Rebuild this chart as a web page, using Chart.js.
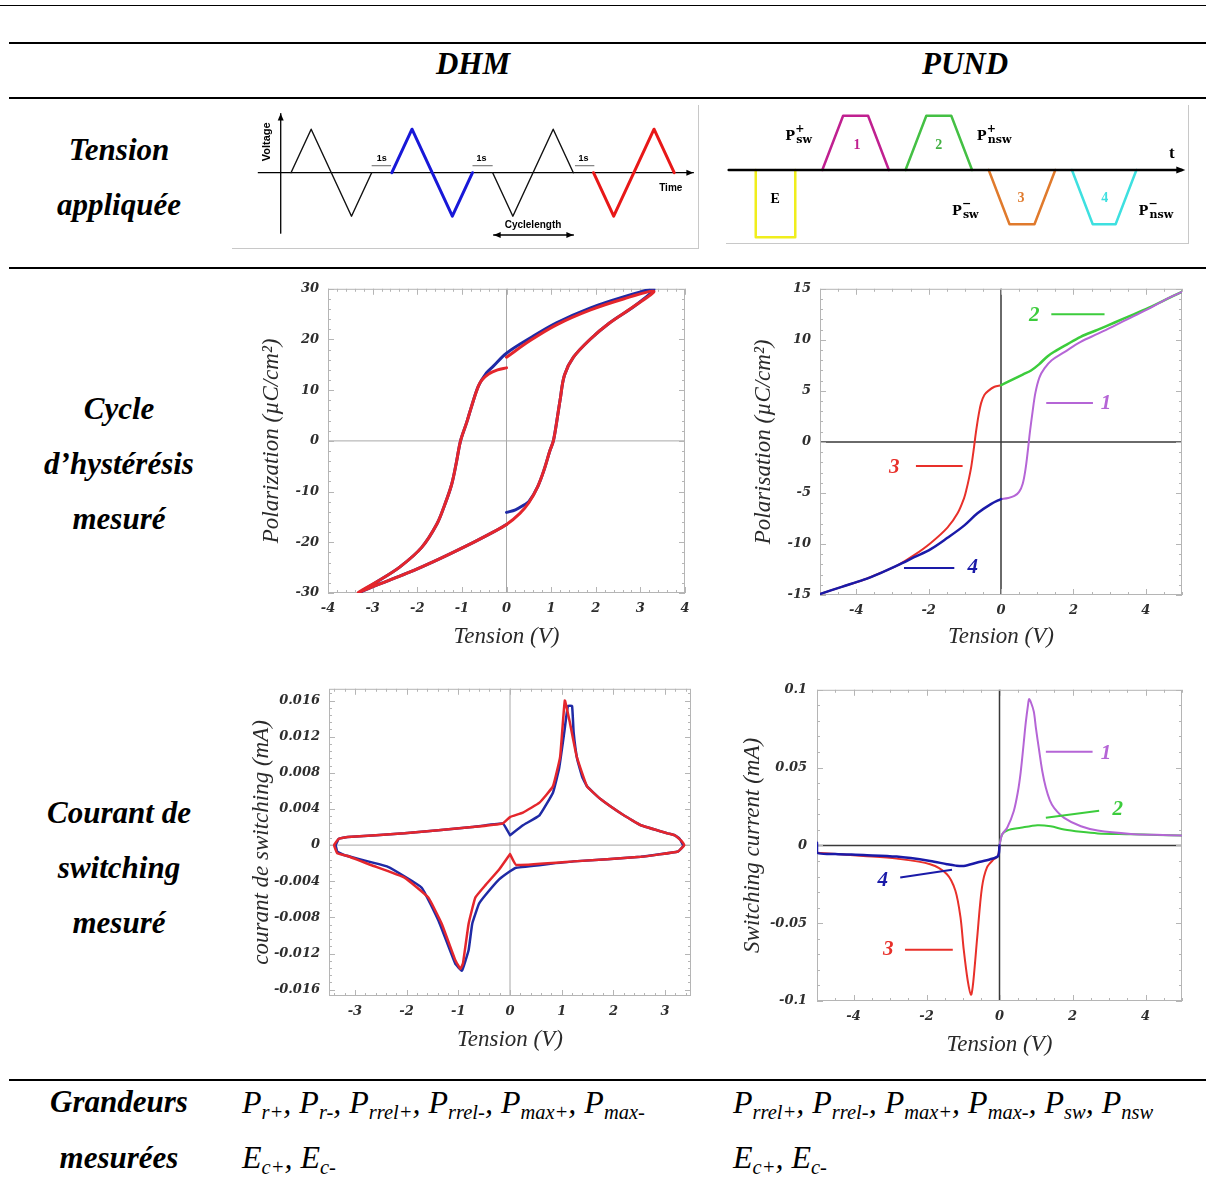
<!DOCTYPE html>
<html lang="fr"><head><meta charset="utf-8">
<script src="https://cdn.jsdelivr.net/npm/chart.js@4.4.1/dist/chart.umd.min.js"></script>
<style>
html,body{margin:0;padding:0;background:#fff}
body{position:relative;width:1206px;height:1189px;overflow:hidden;font-family:'Liberation Serif','Times New Roman',serif}
.hl{position:absolute;background:#000;height:2px}
.t{position:absolute;transform:translate(-50%,-50%);white-space:nowrap;font-weight:bold;font-style:italic;font-size:31px;line-height:1;color:#000}
.m{position:absolute;white-space:nowrap;font-style:italic;font-size:32px;line-height:1;color:#000}
.m sub{font-size:0.64em;vertical-align:-0.28em;line-height:0}
canvas{position:absolute}
.frm{position:absolute;border-right:1px solid #c8c8c8;border-bottom:1px solid #c8c8c8;box-sizing:border-box}
</style></head><body>
<div class="hl" style="left:0;top:5px;width:1206px;height:1px"></div>
<div class="hl" style="left:9px;top:42px;width:1197px"></div>
<div class="hl" style="left:9px;top:97px;width:1197px"></div>
<div class="hl" style="left:9px;top:267px;width:1197px"></div>
<div class="hl" style="left:9px;top:1079px;width:1197px"></div>

<div class="t" style="left:473px;top:63px">DHM</div>
<div class="t" style="left:965px;top:63px">PUND</div>
<div class="t" style="left:119px;top:149px">Tension</div>
<div class="t" style="left:119px;top:204px">appliquée</div>
<div class="t" style="left:119px;top:408px">Cycle</div>
<div class="t" style="left:119px;top:463px">d’hystérésis</div>
<div class="t" style="left:119px;top:518px">mesuré</div>
<div class="t" style="left:119px;top:812px">Courant de</div>
<div class="t" style="left:119px;top:867px">switching</div>
<div class="t" style="left:119px;top:922px">mesuré</div>
<div class="t" style="left:119px;top:1101px">Grandeurs</div>
<div class="t" style="left:119px;top:1157px">mesurées</div>

<div class="m" style="left:242px;top:1086px">P<sub>r+</sub>, P<sub>r-</sub>, P<sub>rrel+</sub>, P<sub>rrel-</sub>, P<sub>max+</sub>, P<sub>max-</sub></div>
<div class="m" style="left:242px;top:1141px">E<sub>c+</sub>, E<sub>c-</sub></div>
<div class="m" style="left:733px;top:1086px">P<sub>rrel+</sub>, P<sub>rrel-</sub>, P<sub>max+</sub>, P<sub>max-</sub>, P<sub>sw</sub>, P<sub>nsw</sub></div>
<div class="m" style="left:733px;top:1141px">E<sub>c+</sub>, E<sub>c-</sub></div>

<div class="frm" style="left:232px;top:105px;width:467px;height:144px"></div>
<div class="frm" style="left:726px;top:105px;width:463px;height:139px"></div>

<canvas id="waveDHM" width="466" height="143" style="left:232px;top:105px"></canvas>
<canvas id="wavePUND" width="462" height="138" style="left:726px;top:105px"></canvas>
<canvas id="hystDHM" width="460" height="385" style="left:240px;top:272px"></canvas>
<canvas id="hystPUND" width="470" height="385" style="left:730px;top:272px"></canvas>
<canvas id="curDHM" width="460" height="390" style="left:240px;top:672px"></canvas>
<canvas id="curPUND" width="470" height="390" style="left:730px;top:672px"></canvas>

<script>
// ---------------- DATA ----------------
// DHM applied voltage (time in quarter-periods, normalised voltage)
const dhmWaveT1 = [0, 1, 2, 3, 4],      dhmWaveV1 = [0, 1, 0, -1, 0];
const dhmWaveT2 = [5, 6, 7, 8, 9],      dhmWaveV2 = [0, 1, 0, -1, 0];
const dhmWaveT3 = [10, 11, 12, 13, 14], dhmWaveV3 = [0, -1, 0, 1, 0];
const dhmWaveT4 = [15, 16, 17, 18, 19], dhmWaveV4 = [0, -1, 0, 1, 0];

// PUND pulse train
const pundWaveTE = [1.3, 1.3, 3.2, 3.2],       pundWaveVE = [0, -1.24, -1.24, 0];
const pundWaveT1 = [4.5, 5.5, 6.7, 7.7],       pundWaveV1 = [0, 1, 1, 0];
const pundWaveT2 = [8.5, 9.5, 10.7, 11.7],     pundWaveV2 = [0, 1, 1, 0];
const pundWaveT3 = [12.5, 13.5, 14.7, 15.7],   pundWaveV3 = [0, -1, -1, 0];
const pundWaveT4 = [16.5, 17.5, 18.6, 19.6],   pundWaveV4 = [0, -1, -1, 0];

// DHM hysteresis (V, µC/cm²)
const dhmHystBlueV = [0, 0.2, 0.4, 0.5, 0.7, 0.85, 0.97, 1.05, 1.12, 1.2, 1.3, 1.5, 1.87, 2.3, 2.9, 3.3, 2.62, 1.87, 1.12, 0.53, 0, -0.3, -0.45, -0.63, -0.78, -0.89, -1.03, -1.12, -1.23, -1.38, -1.56, -1.9, -2.38, -2.83, -3.3, -2.98, -2.23, -1.49, -0.74, -0.3, 0];
const dhmHystBlueP = [-14.1, -13.6, -12.6, -12.0, -9.0, -5.5, -2, 0, 3.5, 8, 13, 16.5, 20, 23.2, 26.8, 30, 28.4, 26.2, 23.3, 20.3, 17.3, 14.7, 13.4, 10.8, 6.9, 3.7, 0, -4.1, -8.6, -12.5, -16.4, -21, -24.8, -27.4, -30, -28.7, -26.1, -23.2, -20, -18, -16.5];
const dhmHystRedV = [0, -0.2, -0.4, -0.55, -0.63, -0.78, -0.89, -1.03, -1.12, -1.23, -1.38, -1.56, -1.9, -2.38, -2.83, -3.32, -2.98, -2.23, -1.49, -0.74, -0.3, 0, 0.3, 0.5, 0.7, 0.85, 0.97, 1.05, 1.12, 1.2, 1.3, 1.5, 1.87, 2.3, 2.9, 3.3, 2.62, 1.87, 1.12, 0.53, 0];
const dhmHystRedP = [14.4, 14.0, 13.2, 12.0, 10.8, 6.9, 3.7, 0, -4.1, -8.6, -12.5, -16.4, -21, -24.8, -27.4, -29.9, -28.7, -26.1, -23.2, -20, -18, -16.5, -14.3, -12.2, -9.0, -5.5, -2, 0, 3.5, 8, 13, 16.5, 20, 23.2, 26.8, 29.5, 28.0, 25.8, 22.9, 19.8, 16.5];

// PUND hysteresis
const pundHyst1V = [0, 0.2, 0.37, 0.5, 0.6, 0.68, 0.74, 0.8, 0.87, 0.95, 1.06, 1.2, 1.4, 1.75, 2.2, 2.68, 3.14, 3.6, 4.06, 4.52, 5.0];
const pundHyst1P = [-5.6, -5.5, -5.3, -4.9, -4.1, -2.6, -0.9, 1.0, 2.9, 4.8, 6.3, 7.2, 8.0, 8.8, 9.8, 10.6, 11.4, 12.2, 13.0, 13.9, 14.7];
const pundHyst2V = [0, 0.2, 0.4, 0.6, 0.83, 1.05, 1.29, 1.5, 1.75, 2.2, 2.68, 3.14, 3.6, 4.06, 4.52, 5.0];
const pundHyst2P = [5.55, 5.9, 6.25, 6.6, 7.0, 7.6, 8.4, 8.9, 9.4, 10.3, 11.0, 11.7, 12.4, 13.1, 13.9, 14.7];
const pundHyst3V = [0, -0.18, -0.35, -0.46, -0.55, -0.62, -0.69, -0.76, -0.82, -0.88, -0.95, -1.02, -1.2, -1.48, -1.94, -2.4, -2.86, -3.3, -3.79, -4.4, -5.0];
const pundHyst3P = [5.55, 5.4, 5.0, 4.6, 3.8, 2.6, 1.0, -0.9, -2.4, -3.5, -4.6, -5.5, -7.0, -8.4, -9.9, -11.1, -12.1, -12.8, -13.5, -14.2, -14.9];
const pundHyst4V = [0, -0.28, -0.65, -1.02, -1.48, -1.94, -2.4, -2.86, -3.3, -3.79, -4.4, -5.0];
const pundHyst4P = [-5.6, -6.1, -7.0, -8.2, -9.4, -10.5, -11.3, -12.1, -12.8, -13.5, -14.2, -14.9];

// DHM switching current (V, mA)
const dhmCurBlueV = [0, 0.25, 0.57, 0.83, 0.95, 1.05, 1.12, 1.2, 1.23, 1.3, 1.4, 1.49, 1.75, 2.2, 2.53, 3.05, 3.18, 3.28, 3.35, 3.25, 2.53, 1.23, 0.12, 0, -0.21, -0.47, -0.6, -0.73, -0.8, -0.93, -1.06, -1.38, -1.71, -2.36, -3.21, -3.34, -3.37, -3.31, -3.14, -2.04, -0.73, -0.14, 0];
const dhmCurBlueI = [0.0011, 0.0022, 0.0033, 0.0058, 0.0085, 0.0125, 0.0154, 0.0154, 0.0125, 0.0095, 0.0075, 0.0065, 0.0051, 0.0033, 0.0022, 0.0013, 0.0011, 0.0007, -0.0001, -0.0007, -0.0013, -0.0018, -0.0025, -0.0029, -0.0038, -0.0055, -0.0065, -0.0087, -0.0116, -0.0139, -0.0131, -0.0084, -0.0047, -0.0024, -0.0011, -0.0007, 0, 0.0007, 0.0009, 0.0013, 0.002, 0.0024, 0.0011];
const dhmCurRedV = [0, -0.21, -0.47, -0.67, -0.8, -0.91, -0.96, -1.06, -1.32, -1.58, -2.04, -2.69, -3.14, -3.34, -3.4, -3.31, -3.14, -2.04, -0.73, -0.14, 0, 0.25, 0.57, 0.83, 0.97, 1.06, 1.16, 1.29, 1.49, 1.75, 2.2, 2.53, 3.05, 3.18, 3.31, 3.37, 3.25, 2.53, 1.23, 0.12, 0];
const dhmCurRedI = [-0.001, -0.0027, -0.0044, -0.0058, -0.0087, -0.0131, -0.0137, -0.0127, -0.0087, -0.0058, -0.0036, -0.0022, -0.0012, -0.0009, 0, 0.0007, 0.0009, 0.0013, 0.002, 0.0024, 0.0031, 0.0036, 0.0047, 0.0065, 0.0098, 0.016, 0.0135, 0.0098, 0.0065, 0.0051, 0.0033, 0.0022, 0.0013, 0.0011, 0.0005, 0, -0.0007, -0.0013, -0.0018, -0.0022, -0.001];

// PUND switching current
const pundCur1V = [0, 0.07, 0.21, 0.39, 0.5, 0.58, 0.66, 0.72, 0.78, 0.81, 0.86, 0.94, 1.0, 1.08, 1.17, 1.27, 1.38, 1.5, 1.77, 2.23, 2.69, 3.6, 4.3, 5.0];
const pundCur1I = [0, 0.007, 0.0113, 0.022, 0.034, 0.047, 0.065, 0.079, 0.09, 0.094, 0.092, 0.086, 0.075, 0.062, 0.048, 0.037, 0.029, 0.024, 0.0177, 0.0123, 0.0096, 0.0074, 0.0068, 0.0064];
const pundCur2V = [0, 0.07, 0.21, 0.58, 1.04, 1.4, 1.77, 2.23, 2.69, 3.6, 4.3, 5.0];
const pundCur2I = [0, 0.007, 0.0096, 0.0113, 0.013, 0.0123, 0.0102, 0.0087, 0.0077, 0.0072, 0.0067, 0.0064];
const pundCur3V = [0, -0.04, -0.16, -0.34, -0.48, -0.61, -0.72, -0.78, -0.87, -0.98, -1.07, -1.21, -1.44, -1.9, -2.82, -3.73, -5.0];
const pundCur3I = [0, -0.0068, -0.009, -0.014, -0.027, -0.059, -0.088, -0.096, -0.087, -0.067, -0.046, -0.029, -0.0185, -0.0121, -0.0085, -0.0068, -0.0047];
const pundCur4V = [0, -0.04, -0.25, -0.61, -0.98, -1.2, -1.44, -1.9, -2.82, -3.73, -4.5, -5.0, -5.0];
const pundCur4I = [0, -0.0068, -0.0089, -0.011, -0.0132, -0.013, -0.0121, -0.01, -0.0072, -0.0062, -0.0055, -0.0047, 0.0017];

// tick labels
const dhmHystXTicks = [-4, -3, -2, -1, 0, 1, 2, 3, 4];
const dhmHystYTicks = [-30, -20, -10, 0, 10, 20, 30];
const pundHystXTicks = [-4, -2, 0, 2, 4];
const pundHystYTicks = [-15, -10, -5, 0, 5, 10, 15];
const dhmCurXTicks = [-3, -2, -1, 0, 1, 2, 3];
const dhmCurYTicks = [-0.016, -0.012, -0.008, -0.004, 0, 0.004, 0.008, 0.012, 0.016];
const pundCurXTicks = [-4, -2, 0, 2, 4];
const pundCurYTicks = [-0.1, -0.05, 0, 0.05, 0.1];

// ---------------- HELPERS ----------------
const SERIF = "'Liberation Serif','Times New Roman',serif";
const TICKF = "'DejaVu Serif',serif";
const SANS = "'Liberation Sans',Arial,sans-serif";
const C = {red:'#e4262c', blue:'#1f2aa5', purple:'#b565d6', green:'#3ccc3c', pred:'#e8302a', pblue:'#1a1aa8'};

function pts(xs, ys) { return xs.map((x, i) => ({x: x, y: ys[i]})); }
function ln(xs, ys, color, w, tension, clip) {
  const d = {data: pts(xs, ys), showLine: true, borderColor: color, backgroundColor: color,
    borderWidth: w, pointRadius: 0, pointHoverRadius: 0, tension: tension || 0, fill: false,
    borderJoinStyle: 'round', borderCapStyle: 'round'};
  if (clip === false) d.clip = false;
  return d;
}

function decor(spec) {
  return { id: 'decor', afterDatasetsDraw(chart) {
    const ctx = chart.ctx;
    const X = v => chart.scales.x.getPixelForValue(v), Y = v => chart.scales.y.getPixelForValue(v);
    ctx.save();
    (spec.lines || []).forEach(l => {
      ctx.strokeStyle = l.c; ctx.lineWidth = l.w; ctx.lineCap = 'butt';
      ctx.beginPath(); ctx.moveTo(X(l.x1), Y(l.y1)); ctx.lineTo(X(l.x2), Y(l.y2)); ctx.stroke();
    });
    (spec.arrows || []).forEach(a => {
      const tx = X(a.x), ty = Y(a.y), fx = X(a.fx), fy = Y(a.fy);
      const ang = Math.atan2(ty - fy, tx - fx), L = a.len || 7, W = a.wid || 3.5;
      ctx.fillStyle = a.c; ctx.beginPath(); ctx.moveTo(tx, ty);
      ctx.lineTo(tx - L * Math.cos(ang) + W * Math.sin(ang), ty - L * Math.sin(ang) - W * Math.cos(ang));
      ctx.lineTo(tx - L * Math.cos(ang) - W * Math.sin(ang), ty - L * Math.sin(ang) + W * Math.cos(ang));
      ctx.closePath(); ctx.fill();
    });
    (spec.texts || []).forEach(t => {
      ctx.save(); ctx.translate(X(t.x), Y(t.y)); if (t.rot) ctx.rotate(t.rot);
      ctx.fillStyle = t.c || '#000'; ctx.font = t.f;
      ctx.textAlign = t.a || 'center'; ctx.textBaseline = t.b || 'middle';
      ctx.fillText(t.s, 0, 0);
      (t.parts || []).forEach(p => { ctx.font = p.f; ctx.textAlign = 'left'; ctx.fillText(p.s, p.dx, p.dy); });
      ctx.restore();
    });
    ctx.restore();
  }};
}

function frame(o) {
  return { id: 'frame', beforeDatasetsDraw(chart) {
    const ctx = chart.ctx, a = chart.chartArea, xs = chart.scales.x, ys = chart.scales.y;
    ctx.save();
    ctx.strokeStyle = o.zeroColor; ctx.lineWidth = o.zeroWidth;
    const x0 = xs.getPixelForValue(0), y0 = ys.getPixelForValue(0);
    ctx.beginPath(); ctx.moveTo(x0, a.top); ctx.lineTo(x0, a.bottom);
    ctx.moveTo(a.left, y0); ctx.lineTo(a.right, y0); ctx.stroke();
    ctx.strokeStyle = o.color; ctx.lineWidth = 1;
    ctx.strokeRect(a.left + 0.5, a.top + 0.5, a.right - a.left - 1, a.bottom - a.top - 1);
    const tk = (scale, step, len, horiz) => {
      const i0 = Math.ceil(scale.min / step - 1e-6), i1 = Math.floor(scale.max / step + 1e-6);
      for (let i = i0; i <= i1; i++) {
        const p = Math.round(scale.getPixelForValue(i * step)) + 0.5;
        if (horiz) { ctx.moveTo(p, a.bottom); ctx.lineTo(p, a.bottom - len); ctx.moveTo(p, a.top); ctx.lineTo(p, a.top + len); }
        else { ctx.moveTo(a.left, p); ctx.lineTo(a.left + len, p); ctx.moveTo(a.right, p); ctx.lineTo(a.right - len, p); }
      }
    };
    ctx.beginPath();
    tk(xs, o.xMinor, 3, true); tk(ys, o.yMinor, 3, false);
    tk(xs, o.xMajor, 6, true); tk(ys, o.yMajor, 6, false);
    ctx.stroke();
    ctx.restore();
  }};
}

function fmt(v) { return v === 0 ? '0' : String(Number(v.toFixed(4))); }

function plot(id, c) {
  return new Chart(document.getElementById(id), {
    type: 'scatter',
    data: {datasets: c.datasets},
    options: {
      responsive: false, animation: false, devicePixelRatio: 1,
      layout: {padding: c.pad},
      plugins: {legend: {display: false}, tooltip: {enabled: false}},
      scales: {
        x: {type: 'linear', min: c.xr[0], max: c.xr[1],
          grid: {display: false, drawTicks: false}, border: {display: false},
          afterFit: s => { s.height = c.xH; },
          afterBuildTicks: s => { s.ticks = c.xTicks.map(v => ({value: v})); },
          ticks: {padding: c.xPad, autoSkip: false, maxRotation: 0, color: '#2e2e2e',
            font: {family: TICKF, style: 'italic', weight: 'bold', size: c.tickSize}, callback: v => fmt(v)},
          title: {display: true, text: c.xTitle, color: '#2a2a2a',
            font: {family: SERIF, style: 'italic', size: 23}, padding: {top: 0, bottom: c.xTitlePad}}},
        y: {type: 'linear', min: c.yr[0], max: c.yr[1],
          grid: {display: false, drawTicks: false}, border: {display: false},
          afterFit: s => { s.width = c.yW; },
          afterBuildTicks: s => { s.ticks = c.yTicks.map(v => ({value: v})); },
          ticks: {padding: c.yPad, autoSkip: false, color: '#2e2e2e',
            font: {family: TICKF, style: 'italic', weight: 'bold', size: c.tickSize}, callback: v => fmt(v)},
          title: {display: true, text: c.yTitle, color: '#2a2a2a',
            font: {family: SERIF, style: 'italic', size: 23}, padding: {top: c.yTitlePad, bottom: 0}}}
      }
    },
    plugins: [frame(c.frame), decor(c.decor || {})]
  });
}

function wave(id, xr, yr, datasets, spec) {
  return new Chart(document.getElementById(id), {
    type: 'scatter', data: {datasets},
    options: {responsive: false, animation: false, devicePixelRatio: 1, layout: {padding: 0},
      plugins: {legend: {display: false}, tooltip: {enabled: false}},
      scales: {x: {type: 'linear', display: false, min: xr[0], max: xr[1]},
               y: {type: 'linear', display: false, min: yr[0], max: yr[1]}}},
    plugins: [decor(spec)]
  });
}

// ---------------- WAVEFORMS ----------------
// (Chart.js paints dataset 0 last, i.e. on top)
const sf = 'bold 9px ' + SANS, sf2 = 'bold 10px ' + SANS;
wave('waveDHM', [-2.925, 20.18], [-1.731, 1.556], [
  ln(dhmWaveT4, dhmWaveV4, '#e81818', 3, 0, false),
  ln(dhmWaveT3, dhmWaveV3, '#111', 1.4, 0, false),
  ln(dhmWaveT2, dhmWaveV2, '#1818d8', 3, 0, false),
  ln(dhmWaveT1, dhmWaveV1, '#111', 1.4, 0, false),
  ln([10.05, 14.0], [-1.43, -1.43], '#000', 1.5, 0, false),
  ln([-0.51, -0.51], [-1.39, 1.36], '#000', 1.3, 0, false),
  ln([-1.62, 19.95], [0, 0], '#000', 1.3, 0, false)
], {
  lines: [
    {x1: 4.0, y1: 0.16, x2: 4.96, y2: 0.16, c: '#666', w: 1},
    {x1: 9.0, y1: 0.16, x2: 10.0, y2: 0.16, c: '#666', w: 1},
    {x1: 14.08, y1: 0.16, x2: 15.04, y2: 0.16, c: '#666', w: 1}
  ],
  arrows: [
    {x: 19.95, y: 0, fx: 0, fy: 0, c: '#000', len: 7, wid: 3},
    {x: -0.51, y: 1.36, fx: -0.51, fy: 0, c: '#000', len: 7, wid: 3},
    {x: 10.05, y: -1.43, fx: 12, fy: -1.43, c: '#000', len: 7, wid: 3},
    {x: 14.0, y: -1.43, fx: 12, fy: -1.43, c: '#000', len: 7, wid: 3}
  ],
  texts: [
    {x: 4.5, y: 0.33, s: '1s', f: sf},
    {x: 9.45, y: 0.33, s: '1s', f: sf},
    {x: 14.5, y: 0.33, s: '1s', f: sf},
    {x: -1.2, y: 0.71, s: 'Voltage', f: 'bold 11px ' + SANS, rot: -Math.PI / 2},
    {x: 18.83, y: -0.36, s: 'Time', f: sf2},
    {x: 12.0, y: -1.2, s: 'Cyclelength', f: sf2}
  ]
});

const pf = 'bold 13px ' + TICKF, ps = 'bold 11px ' + TICKF;
wave('wavePUND', [-0.13, 22.08], [-1.344, 1.197], [
  ln([0, 21.79], [0, 0], '#000', 2.5, 0, false),
  ln(pundWaveTE, pundWaveVE, '#f0ee1c', 2.5, 0, false),
  ln(pundWaveT1, pundWaveV1, '#c02090', 2.5, 0, false),
  ln(pundWaveT2, pundWaveV2, '#44c044', 2.5, 0, false),
  ln(pundWaveT3, pundWaveV3, '#e07a2c', 2.5, 0, false),
  ln(pundWaveT4, pundWaveV4, '#3ee0e0', 2.5, 0, false)
], {
  arrows: [{x: 21.95, y: 0, fx: 0, fy: 0, c: '#000', len: 9, wid: 3.5}],
  texts: [
    {x: 2.23, y: -0.55, s: 'E', f: 'bold 14px ' + SERIF},
    {x: 6.17, y: 0.46, s: '1', f: 'bold 14px ' + SERIF, c: '#c02090'},
    {x: 10.1, y: 0.46, s: '2', f: 'bold 14px ' + SERIF, c: '#44b044'},
    {x: 14.05, y: -0.52, s: '3', f: 'bold 14px ' + SERIF, c: '#e07a2c'},
    {x: 18.08, y: -0.52, s: '4', f: 'bold 14px ' + SERIF, c: '#3ee0e0'},
    {x: 21.3, y: 0.31, s: 't', f: 'bold 17px ' + SERIF},
    {x: 2.72, y: 0.55, s: 'P', f: pf, a: 'left', b: 'alphabetic', parts: [{s: '+', f: ps, dx: 10, dy: -8}, {s: 'sw', f: ps, dx: 11, dy: 3}]},
    {x: 11.93, y: 0.55, s: 'P', f: pf, a: 'left', b: 'alphabetic', parts: [{s: '+', f: ps, dx: 10, dy: -8}, {s: 'nsw', f: ps, dx: 11, dy: 3}]},
    {x: 10.73, y: -0.83, s: 'P', f: pf, a: 'left', b: 'alphabetic', parts: [{s: '\u2212', f: ps, dx: 10, dy: -8}, {s: 'sw', f: ps, dx: 11, dy: 3}]},
    {x: 19.7, y: -0.83, s: 'P', f: pf, a: 'left', b: 'alphabetic', parts: [{s: '\u2212', f: ps, dx: 10, dy: -8}, {s: 'nsw', f: ps, dx: 11, dy: 3}]}
  ]
});

// ---------------- PLOTS ----------------
const numF = 'italic bold 21px ' + SERIF;
plot('hystDHM', {
  datasets: [ln(dhmHystRedV, dhmHystRedP, C.red, 3, 0.35), ln(dhmHystBlueV, dhmHystBlueP, C.blue, 3, 0.35)],
  pad: {left: 0, top: 13, right: 15, bottom: 0}, yW: 88, xH: 64,
  xr: [-4, 4], yr: [-30, 30], xTicks: dhmHystXTicks, yTicks: dhmHystYTicks,
  tickSize: 13, xPad: 8, yPad: 9, xTitle: 'Tension (V)', yTitle: 'Polarization (\u00b5C/cm\u00b2)',
  xTitlePad: 6, yTitlePad: 18,
  frame: {color: '#b5b5b5', zeroColor: '#a8a8a8', zeroWidth: 1, xMajor: 1, xMinor: 0.2, yMajor: 10, yMinor: 2}
});

plot('hystPUND', {
  datasets: [ln(pundHyst4V, pundHyst4P, C.pblue, 2.5, 0.35), ln(pundHyst1V, pundHyst1P, C.purple, 2, 0.35),
             ln(pundHyst2V, pundHyst2P, C.green, 2.5, 0.35), ln(pundHyst3V, pundHyst3P, C.pred, 2, 0.35)],
  pad: {left: 0, top: 13, right: 18, bottom: 0}, yW: 90, xH: 62,
  xr: [-5, 5], yr: [-15, 15], xTicks: pundHystXTicks, yTicks: pundHystYTicks,
  tickSize: 13, xPad: 8, yPad: 9, xTitle: 'Tension (V)', yTitle: 'Polarisation (\u00b5C/cm\u00b2)',
  xTitlePad: 6, yTitlePad: 20,
  frame: {color: '#b5b5b5', zeroColor: '#3a3a3a', zeroWidth: 1.5, xMajor: 2, xMinor: 0.5, yMajor: 5, yMinor: 1},
  decor: {
    lines: [
      {x1: 1.39, y1: 12.5, x2: 2.86, y2: 12.5, c: C.green, w: 2},
      {x1: 1.25, y1: 3.8, x2: 2.54, y2: 3.8, c: C.purple, w: 2},
      {x1: -2.35, y1: -2.35, x2: -1.06, y2: -2.35, c: C.pred, w: 2},
      {x1: -2.68, y1: -12.35, x2: -1.29, y2: -12.35, c: C.pblue, w: 2}
    ],
    texts: [
      {x: 0.92, y: 12.4, s: '2', f: numF, c: C.green},
      {x: 2.9, y: 3.8, s: '1', f: numF, c: C.purple},
      {x: -2.95, y: -2.5, s: '3', f: numF, c: C.pred},
      {x: -0.78, y: -12.35, s: '4', f: numF, c: C.pblue}
    ]
  }
});

plot('curDHM', {
  datasets: [ln(dhmCurRedV, dhmCurRedI, C.red, 2.5, 0.1), ln(dhmCurBlueV, dhmCurBlueI, C.blue, 2.5, 0.1)],
  pad: {left: 0, top: 13, right: 9, bottom: 0}, yW: 89, xH: 66,
  xr: [-3.5, 3.5], yr: [-0.0167, 0.0173], xTicks: dhmCurXTicks, yTicks: dhmCurYTicks,
  tickSize: 13, xPad: 8, yPad: 9, xTitle: 'Tension (V)', yTitle: 'courant de switching (mA)',
  xTitlePad: 8, yTitlePad: 8,
  frame: {color: '#b5b5b5', zeroColor: '#a8a8a8', zeroWidth: 1, xMajor: 1, xMinor: 0.2, yMajor: 0.004, yMinor: 0.0008}
});

plot('curPUND', {
  datasets: [ln(pundCur4V, pundCur4I, C.pblue, 2.5, 0.3), ln(pundCur1V, pundCur1I, C.purple, 2, 0.3),
             ln(pundCur3V, pundCur3I, C.pred, 2, 0.3), ln(pundCur2V, pundCur2I, C.green, 2, 0.3)],
  pad: {left: 0, top: 13, right: 18, bottom: 0}, yW: 87, xH: 61,
  xr: [-5, 5], yr: [-0.1, 0.1], xTicks: pundCurXTicks, yTicks: pundCurYTicks,
  tickSize: 13, xPad: 8, yPad: 10, xTitle: 'Tension (V)', yTitle: 'Switching current (mA)',
  xTitlePad: 3, yTitlePad: 9,
  frame: {color: '#b5b5b5', zeroColor: '#3a3a3a', zeroWidth: 1.5, xMajor: 2, xMinor: 0.5, yMajor: 0.05, yMinor: 0.01},
  decor: {
    lines: [
      {x1: 1.27, y1: 0.0602, x2: 2.55, y2: 0.0602, c: C.purple, w: 2},
      {x1: 1.27, y1: 0.0177, x2: 2.73, y2: 0.0223, c: C.green, w: 2},
      {x1: -2.72, y1: -0.0206, x2: -1.3, y2: -0.0157, c: C.pblue, w: 2},
      {x1: -2.59, y1: -0.067, x2: -1.28, y2: -0.067, c: C.pred, w: 2}
    ],
    texts: [
      {x: 2.92, y: 0.059, s: '1', f: numF, c: C.purple},
      {x: 3.24, y: 0.023, s: '2', f: numF, c: C.green},
      {x: -3.2, y: -0.0228, s: '4', f: numF, c: C.pblue},
      {x: -3.05, y: -0.067, s: '3', f: numF, c: C.pred}
    ]
  }
});
</script>
</body></html>
